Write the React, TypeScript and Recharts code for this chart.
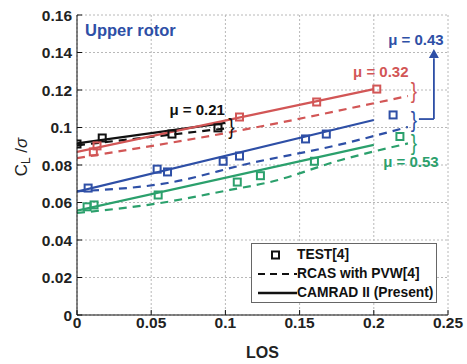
import React from "react";
import {
  CartesianGrid,
  ComposedChart,
  Line,
  ReferenceDot,
  ReferenceLine,
  Scatter,
  XAxis,
  YAxis,
} from "recharts";

type Pt = { los: number; cl: number };

const FONT = "'Liberation Sans', Arial, Helvetica, sans-serif";
const BLACK = "#111111";
const RED = "#d25656";
const BLUE = "#2e4fa6";
const GREEN = "#2ba06c";

const xTicks = [0, 0.05, 0.1, 0.15, 0.2, 0.25];
const yTicks = [0, 0.02, 0.04, 0.06, 0.08, 0.1, 0.12, 0.14, 0.16];

// TEST[4] measured points, one array per advance ratio
const test021: Pt[] = [
  { los: 0, cl: 0.0912 },
  { los: 0.017, cl: 0.0944 },
  { los: 0.064, cl: 0.0965 },
  { los: 0.095, cl: 0.0998 },
];
const test032: Pt[] = [
  { los: 0.011, cl: 0.087 },
  { los: 0.0135, cl: 0.0902 },
  { los: 0.1095, cl: 0.1056 },
  { los: 0.1615, cl: 0.1136 },
  { los: 0.202, cl: 0.1205 },
];
const test043: Pt[] = [
  { los: 0.0075, cl: 0.0677 },
  { los: 0.054, cl: 0.0778 },
  { los: 0.061, cl: 0.0763 },
  { los: 0.0985, cl: 0.082 },
  { los: 0.1095, cl: 0.0848 },
  { los: 0.154, cl: 0.0939 },
  { los: 0.168, cl: 0.0965 },
  { los: 0.213, cl: 0.1067 },
];
const test053: Pt[] = [
  { los: 0.0068, cl: 0.0577 },
  { los: 0.0115, cl: 0.0587 },
  { los: 0.0547, cl: 0.064 },
  { los: 0.108, cl: 0.0709 },
  { los: 0.1236, cl: 0.0743 },
  { los: 0.16, cl: 0.082 },
  { los: 0.2176, cl: 0.0952 },
];

// RCAS with PVW[4] (dashed)
const rcas021: Pt[] = [
  { los: 0, cl: 0.0905 },
  { los: 0.1, cl: 0.0995 },
];
const rcas032: Pt[] = [
  { los: 0, cl: 0.0837 },
  { los: 0.1, cl: 0.097 },
  { los: 0.223, cl: 0.1168 },
];
const rcas043: Pt[] = [
  { los: 0, cl: 0.066 },
  { los: 0.061, cl: 0.0704 },
  { los: 0.117, cl: 0.081 },
  { los: 0.175, cl: 0.0905 },
  { los: 0.223, cl: 0.1003 },
];
const rcas053: Pt[] = [
  { los: 0, cl: 0.0544 },
  { los: 0.056, cl: 0.0597 },
  { los: 0.103, cl: 0.0667 },
  { los: 0.13, cl: 0.0709 },
  { los: 0.178, cl: 0.0827 },
  { los: 0.223, cl: 0.0915 },
];

// CAMRAD II (Present) (solid)
const cam021: Pt[] = [
  { los: 0, cl: 0.0915 },
  { los: 0.1, cl: 0.1025 },
];
const cam032: Pt[] = [
  { los: 0, cl: 0.087 },
  { los: 0.2, cl: 0.1205 },
];
const cam043: Pt[] = [
  { los: 0, cl: 0.0658 },
  { los: 0.2, cl: 0.104 },
];
const cam053: Pt[] = [
  { los: 0, cl: 0.0556 },
  { los: 0.2, cl: 0.0907 },
];

const square = (color: string) => (p: any) =>
  p.cx == null ? null : (
    <rect x={p.cx - 3.5} y={p.cy - 3.5} width={7} height={7} fill="none" stroke={color} strokeWidth={2} />
  );

const note = (txt: string, color: string, size = 15) => (p: any) =>
  p.cx == null ? null : (
    <text x={p.cx} y={p.cy} textAnchor="middle" fill={color} fontSize={size} fontWeight={700} fontFamily={FONT}>
      {txt}
    </text>
  );

const brace = (color: string) => (p: any) =>
  p.cx == null ? null : (
    <text
      x={p.cx}
      y={p.cy}
      textAnchor="middle"
      dominantBaseline="central"
      fill={color}
      fontSize={19}
      fontFamily={FONT}
      transform={`scale(1 1.15) translate(0 ${-p.cy * 0.15 / 1.15})`}
    >
      {"}"}
    </text>
  );

const arrowHead = (p: any) =>
  p.cx == null ? null : (
    <polygon points={`${p.cx},${p.cy} ${p.cx - 5},${p.cy + 9} ${p.cx + 5},${p.cy + 9}`} fill={BLUE} />
  );

const YLabel = (props: any) => {
  const vb = props.viewBox || { x: 0, y: 0, height: 0 };
  const x = vb.x + 21;
  const y = vb.y + vb.height / 2 - 8;
  return (
    <text
      x={x}
      y={y}
      transform={`rotate(-90 ${x} ${y})`}
      textAnchor="middle"
      dominantBaseline="central"
      fontFamily={FONT}
      fontSize={17}
      fill="#222"
    >
      C
      <tspan fontSize={12} dy={5}>
        L
      </tspan>
      <tspan dy={-5}> /</tspan>
      <tspan fontStyle="italic">σ</tspan>
    </text>
  );
};

const tickStyle = { fontSize: 15.5, fontWeight: 700, fill: "#222", fontFamily: FONT };
const fmt = (v: number) => String(v);

function LegendBox() {
  const row = { display: "flex", alignItems: "center", height: 19 } as const;
  const icon = { width: 45, display: "flex", justifyContent: "center" } as const;
  return (
    <div
      style={{
        position: "absolute",
        left: 251,
        top: 243,
        width: 186,
        height: 60,
        border: "1px solid #666",
        background: "#fff",
        fontFamily: FONT,
        fontWeight: 700,
        fontSize: 13.8,
        color: "#111",
        paddingTop: 1,
        boxSizing: "border-box",
      }}
    >
      <div style={row}>
        <div style={icon}>
          <svg width={45} height={10}>
            <rect x={20} y={1.5} width={7} height={7} fill="none" stroke={BLACK} strokeWidth={2} />
          </svg>
        </div>
        <span>TEST[4]</span>
      </div>
      <div style={row}>
        <div style={icon}>
          <svg width={45} height={6}>
            <line x1={6} y1={3} x2={45} y2={3} stroke={BLACK} strokeWidth={2} strokeDasharray="7 5" />
          </svg>
        </div>
        <span>RCAS with PVW[4]</span>
      </div>
      <div style={row}>
        <div style={icon}>
          <svg width={45} height={6}>
            <line x1={6} y1={3} x2={45} y2={3} stroke={BLACK} strokeWidth={2.5} />
          </svg>
        </div>
        <span>CAMRAD II (Present)</span>
      </div>
    </div>
  );
}

export default function App() {
  return (
    <div style={{ position: "absolute", left: 0, top: 0, width: 467, height: 364, background: "#fff" }}>
      <ComposedChart width={467} height={364} margin={{ top: 15, right: 19, bottom: 0, left: 0 }}>
        <CartesianGrid stroke="#b8b8b8" strokeDasharray="2 2" />
        <XAxis
          dataKey="los"
          type="number"
          domain={[0, 0.25]}
          ticks={xTicks}
          tickFormatter={fmt}
          tick={tickStyle}
          height={49}
          tickSize={-5}
          tickMargin={7}
          stroke={BLACK}
          allowDataOverflow
          label={{ value: "LOS", position: "insideBottom", offset: 6, style: { ...tickStyle, fontSize: 16 } }}
        />
        <XAxis
          xAxisId="top"
          orientation="top"
          type="number"
          domain={[0, 0.25]}
          ticks={xTicks}
          tick={false}
          height={0}
          tickSize={-5}
          stroke={BLACK}
        />
        <YAxis
          type="number"
          domain={[0, 0.16]}
          ticks={yTicks}
          tickFormatter={fmt}
          tick={tickStyle}
          width={77}
          tickSize={-5}
          tickMargin={10}
          stroke={BLACK}
          allowDataOverflow
          label={{ content: <YLabel /> }}
        />
        <YAxis
          yAxisId="right"
          orientation="right"
          type="number"
          domain={[0, 0.16]}
          ticks={yTicks}
          tick={false}
          width={0}
          tickSize={-5}
          stroke={BLACK}
        />

        <Line data={rcas032} dataKey="cl" type="monotone" stroke={RED} strokeWidth={2.2} strokeDasharray="8 6" dot={false} isAnimationActive={false} />
        <Line data={rcas043} dataKey="cl" type="monotone" stroke={BLUE} strokeWidth={2.2} strokeDasharray="8 6" dot={false} isAnimationActive={false} />
        <Line data={rcas053} dataKey="cl" type="monotone" stroke={GREEN} strokeWidth={2.2} strokeDasharray="8 6" dot={false} isAnimationActive={false} />
        <Line data={rcas021} dataKey="cl" type="monotone" stroke={BLACK} strokeWidth={2.2} strokeDasharray="8 6" dot={false} isAnimationActive={false} />

        <Line data={cam043} dataKey="cl" type="linear" stroke={BLUE} strokeWidth={2.2} dot={false} isAnimationActive={false} />
        <Line data={cam053} dataKey="cl" type="linear" stroke={GREEN} strokeWidth={2.2} dot={false} isAnimationActive={false} />
        <Line data={cam021} dataKey="cl" type="linear" stroke={BLACK} strokeWidth={2.2} dot={false} isAnimationActive={false} />
        <Line data={cam032} dataKey="cl" type="linear" stroke={RED} strokeWidth={2.2} dot={false} isAnimationActive={false} />

        <Scatter data={test021} dataKey="cl" shape={square(BLACK)} isAnimationActive={false} />
        <Scatter data={test032} dataKey="cl" shape={square(RED)} isAnimationActive={false} />
        <Scatter data={test043} dataKey="cl" shape={square(BLUE)} isAnimationActive={false} />
        <Scatter data={test053} dataKey="cl" shape={square(GREEN)} isAnimationActive={false} />

        <ReferenceDot x={0.0054} y={0.1488} r={0} shape={(p: any) => (
          <text x={p.cx} y={p.cy} fill={BLUE} fontSize={16.5} fontWeight={700} fontFamily={FONT}>Upper rotor</text>
        )} />
        <ReferenceDot x={0.081} y={0.1067} r={0} shape={note("μ = 0.21", BLACK)} />
        <ReferenceDot x={0.104} y={0.101} r={0} shape={brace(BLACK)} />
        <ReferenceDot x={0.2047} y={0.1269} r={0} shape={note("μ = 0.32", RED)} />
        <ReferenceDot x={0.227} y={0.12} r={0} shape={brace(RED)} />
        <ReferenceDot x={0.227} y={0.1045} r={0} shape={brace(BLUE)} />
        <ReferenceDot x={0.227} y={0.0923} r={0} shape={brace(GREEN)} />
        <ReferenceDot x={0.225} y={0.0789} r={0} shape={note("μ = 0.53", GREEN)} />
        <ReferenceDot x={0.2284} y={0.144} r={0} shape={note("μ = 0.43", BLUE)} />

        <ReferenceLine segment={[{ x: 0.2304, y: 0.1045 }, { x: 0.2405, y: 0.1045 }]} stroke={BLUE} strokeWidth={1.8} />
        <ReferenceLine segment={[{ x: 0.2405, y: 0.1045 }, { x: 0.2405, y: 0.137 }]} stroke={BLUE} strokeWidth={1.8} />
        <ReferenceDot x={0.2405} y={0.1419} r={0} shape={arrowHead} />
      </ComposedChart>
      <LegendBox />
    </div>
  );
}
